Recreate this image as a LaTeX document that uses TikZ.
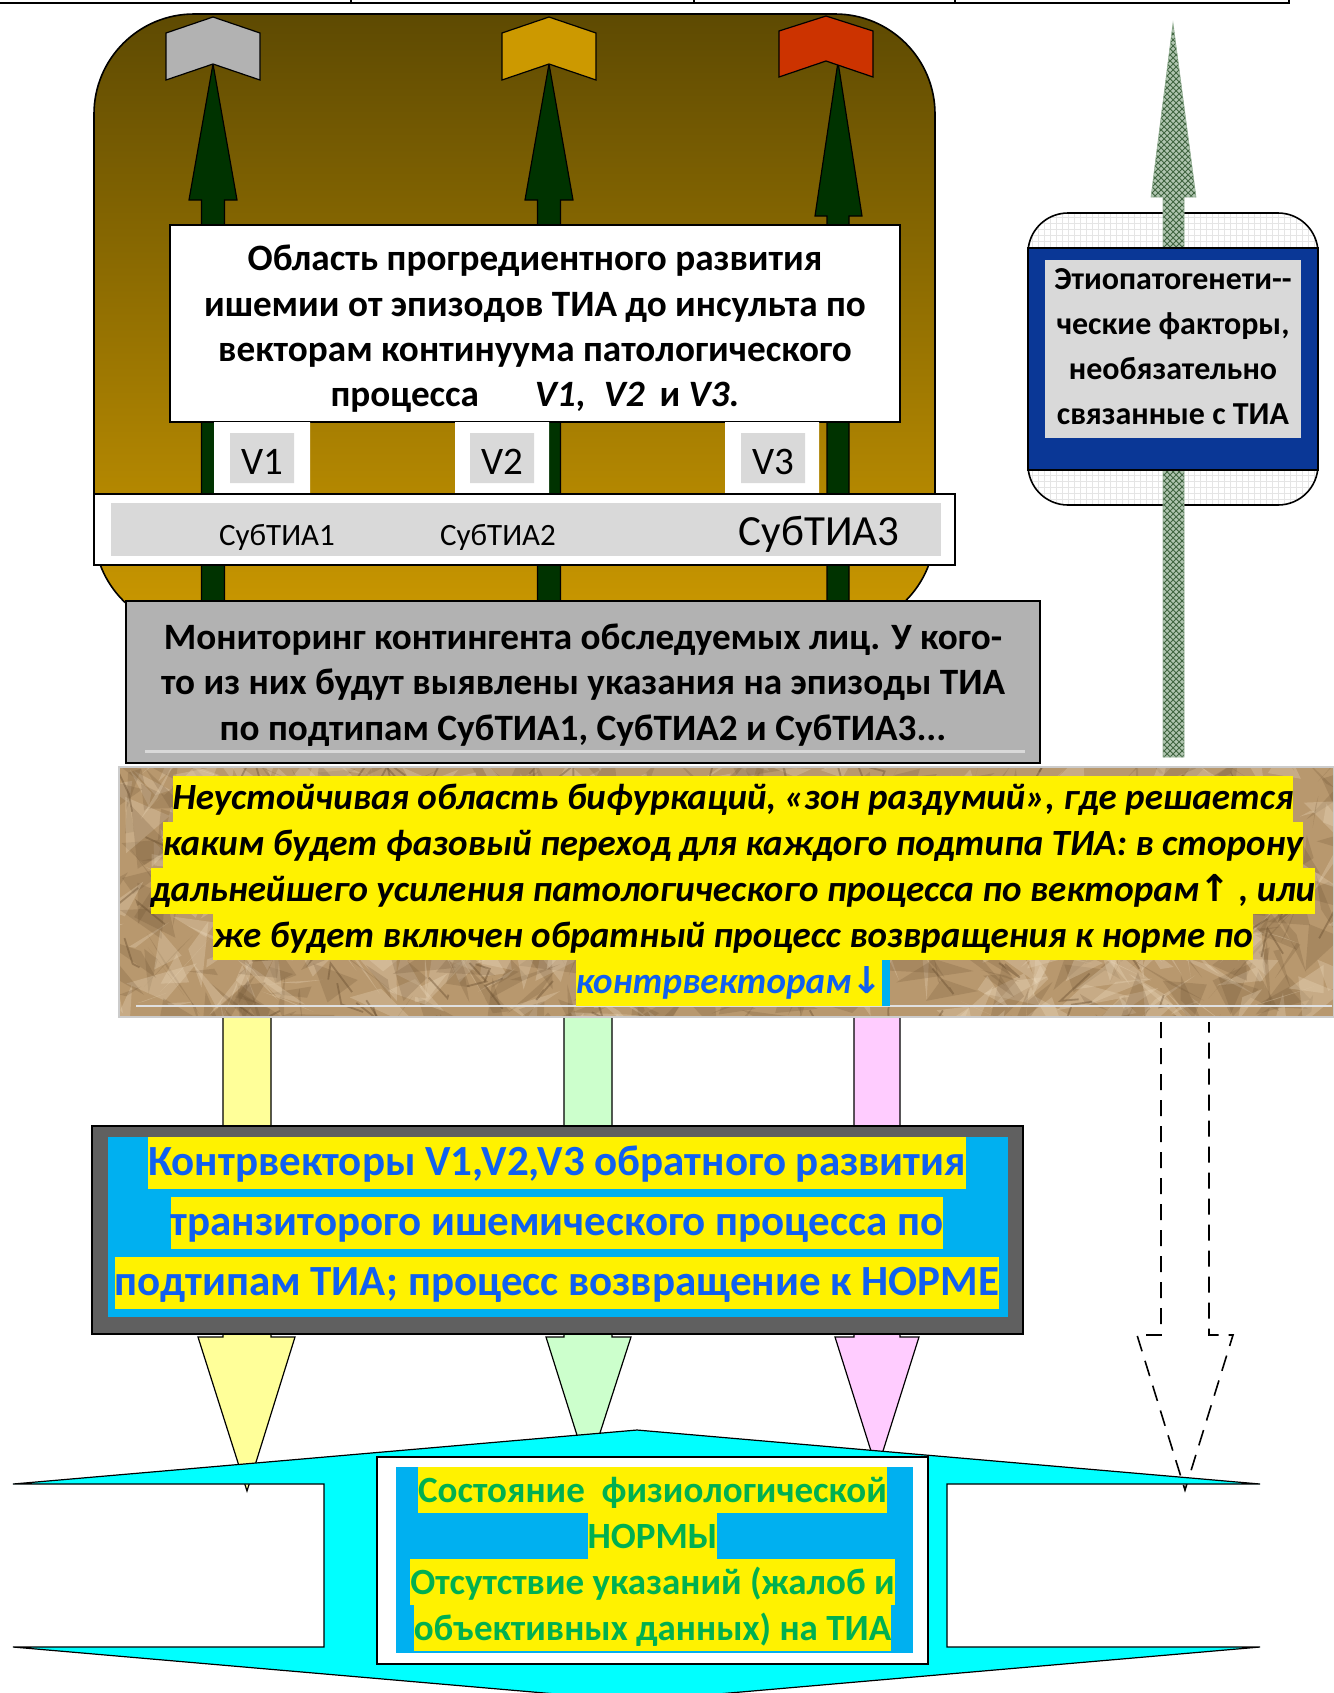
\documentclass[tikz,border=0pt]{standalone}
\usepackage{fontspec}
\setmainfont{Carlito}
\newfontfamily\arrowfont{DejaVu Sans}
\usepackage{tikz}
\usetikzlibrary{patterns}
\usetikzlibrary{positioning}

\definecolor{soilTop}{RGB}{94,74,2}
\definecolor{soilBottom}{RGB}{204,153,0}
\definecolor{vecGreen}{RGB}{0,51,0}
\definecolor{capGrey}{RGB}{178,178,178}
\definecolor{capGold}{RGB}{204,153,0}
\definecolor{capRed}{RGB}{204,51,0}
\definecolor{paleGrey}{RGB}{217,217,217}
\definecolor{monGrey}{RGB}{178,178,178}
\definecolor{darkGrey}{RGB}{96,96,96}
\definecolor{skyBlue}{RGB}{0,176,240}
\definecolor{aqua}{RGB}{0,255,255}
\definecolor{textBlue}{RGB}{16,96,240}
\definecolor{normGreen}{RGB}{0,176,80}
\definecolor{paleYellow}{RGB}{255,255,153}
\definecolor{paleGreen}{RGB}{204,255,204}
\definecolor{palePink}{RGB}{255,204,255}
\definecolor{navyBand}{RGB}{10,55,150}
\definecolor{sand}{RGB}{184,152,110}
\definecolor{sandDark}{RGB}{100,74,44}
\definecolor{sandLight}{RGB}{236,218,190}
\definecolor{meshGreen}{RGB}{80,125,80}

\setlength{\fboxsep}{0pt}
% one highlighted text line: depth, total height, text
\newcommand{\hlline}[3]{\colorbox{yellow}{\rule[-#1]{0pt}{#2}#3}}

\begin{document}
\begin{tikzpicture}[x=0.5pt,y=-0.5pt,
  every node/.style={inner sep=0pt},
  vector/.style={draw=black,line width=0.6pt,fill=vecGreen},
  chevron/.style={draw=black,line width=0.6pt},
  whitebox/.style={draw=black,line width=0.8pt,fill=white},
  boldtext/.style={font=\fontsize{18.6}{22.7}\selectfont\bfseries,align=center},
  subtext/.style={font=\fontsize{15.5}{18}\selectfont},
  vtext/.style={font=\fontsize{19.5}{22}\selectfont},
  palearrow/.style={draw=black,line width=0.6pt},
  dasharrow/.style={draw=black,line width=0.8pt,dash pattern=on 8pt off 5pt,fill=white},
  mesharrow/.style={draw=meshGreen!60,line width=0.3pt,preaction={fill=meshGreen!45},
    pattern=crosshatch,pattern color=meshGreen!80!black}]
  \useasboundingbox (0,0) rectangle (1334,1693);
  % table edge at the top
  \draw[line width=1.2pt] (0,3) -- (1290,3) (351,0) -- (351,3) (694,0) -- (694,3)
    (955,0) -- (955,3) (1289,0) -- (1289,3);

  % region of progredient development
  \draw[line width=0.8pt,top color=soilTop,bottom color=soilBottom,rounded corners=50pt]
    (94,14) rectangle (935,630);
  % the vectors
  \draw[vector] (201.5,610) -- (201.5,200) -- (189,200) -- (213,64) -- (237,200) -- (224.5,200) -- (224.5,610);
  \draw[vector] (537.5,610) -- (537.5,200) -- (525,200) -- (549,64) -- (573,200) -- (560.5,200) -- (560.5,610);
  \draw[vector] (827,610) -- (827,216) -- (815,216) -- (838,62) -- (862,216) -- (849,216) -- (849,610);
  \draw[chevron,fill=capGrey] (166,33) -- (213,17) -- (260,33) -- (260,80) -- (213,64) -- (166,80) -- cycle;
  \draw[chevron,fill=capGold] (502,33) -- (549,17) -- (596,33) -- (596,80) -- (549,64) -- (502,80) -- cycle;
  \draw[chevron,fill=capRed] (779,31) -- (826,16) -- (873,31) -- (873,77) -- (826,61) -- (779,77) -- cycle;

  \draw[whitebox] (170,225) rectangle (900,422);
  \node[boldtext] (areaText) at (535,329)
    {Область прогредиентного развития\\
     ишемии от эпизодов ТИА до инсульта по\\
     векторам континуума патологического\\
     процесса\hspace{1.5em}\textit{V1},\hspace{0.5em}\textit{V2}\hspace{0.4em}и \textit{V3.}};

  % vector labels
  \fill[white] (214,422) rectangle (310,494) (455,422) rectangle (549,494) (725,422) rectangle (819,494);
  \fill[paleGrey] (230,433) rectangle (294,483) (470,433) rectangle (534,483) (741,433) rectangle (805,483);
  \node[vtext,anchor=base] (v1Label) at (262,474) {V1};
  \node[vtext,anchor=base] (v2Label) at (502,474) {V2};
  \node[vtext,anchor=base] (v3Label) at (773,474) {V3};

  % subtypes bar
  \draw[whitebox] (94,494) rectangle (955,565);
  \fill[paleGrey] (111,503) rectangle (941,556);
  \node[subtext,anchor=base] (sub1Label) at (277,545) {СубТИА1};
  \node[subtext,anchor=base] (sub2Label) at (498,545) {СубТИА2};
  \node[font=\fontsize{21.5}{24}\selectfont,anchor=base] (sub3Label) at (819,545) {СубТИА3};

  % monitoring
  \draw[line width=1.2pt,fill=monGrey] (126,601) rectangle (1040,763);
  \draw[paleGrey,line width=1.5pt] (145,751) -- (1025,751);
  \node[boldtext] (monText) at (583,685)
    {Мониторинг контингента обследуемых лиц. У кого-\\
     то из них будут выявлены указания на эпизоды ТИА\\
     по подтипам СубТИА1, СубТИА2 и СубТИА3...};

  % etiopathogenetic factors
  \draw[line width=0.8pt,rounded corners=20pt,fill=white,pattern=grid,pattern color=black!10]
    (1028,213) rectangle (1318,505);
  \draw[mesharrow] (1163,757) -- (1163,197) -- (1151,197) -- (1173,23) -- (1196,197) -- (1184,197) -- (1184,757) -- cycle;
  \draw[line width=0.8pt,fill=navyBand] (1028,248) rectangle (1318,470);
  \fill[paleGrey] (1045,260) rectangle (1301,438);
  \node[font=\fontsize{16}{22.5}\selectfont\bfseries,align=center] (etioText) at (1173,347)
    {Этиопатогенети-{}-\\ ческие факторы,\\ необязательно\\ связанные с ТИА};

  % counter-vectors
  \draw[palearrow,fill=paleYellow] (223,1010) -- (223,1337) -- (198,1337) -- (247,1491) -- (295,1337) -- (271,1337) -- (271,1010);
  \draw[palearrow,fill=paleGreen] (564,1010) -- (564,1337) -- (546,1337) -- (588,1470) -- (631,1337) -- (612,1337) -- (612,1010);
  \draw[palearrow,fill=palePink] (854,1010) -- (854,1337) -- (835,1337) -- (877,1470) -- (919,1337) -- (900,1337) -- (900,1010);
  \draw[dasharrow] (1161,1022) -- (1161,1335) -- (1137,1335) -- (1185,1490) -- (1233,1335) -- (1209,1335) -- (1209,1022);

  % zone of bifurcations
  \begin{scope}
    \clip (119,767) rectangle (1334,1017);
    \fill[sand] (119,767) rectangle (1334,1017);
    \pgfmathsetseed{11}
    \foreach \k in {1,...,450}{
      \fill[sandDark,opacity=0.2]
        ({119+1215*rnd},{767+250*rnd}) -- ++({45*rand},{45*rand}) -- ++({45*rand},{45*rand}) -- cycle;
      \fill[sandLight,opacity=0.3]
        ({119+1215*rnd},{767+250*rnd}) -- ++({45*rand},{45*rand}) -- ++({45*rand},{45*rand}) -- cycle;
    }
    \foreach \k in {1,...,140}{
      \draw[sandDark,line width=0.9pt,opacity=0.4]
        ({119+1215*rnd},{767+250*rnd}) -- ++({30*rand},{35*rand}) -- ++({20*rand},{30*rand});
    }
  \end{scope}
  \draw[black!20,line width=0.8pt] (119,767) rectangle (1334,1017);
  \draw[black!12,line width=1pt] (136,1006) -- (1332,1006);
  \node[font=\fontsize{18.5}{23}\selectfont\bfseries\itshape,align=center] (bifText) at (733,890.5)
    {\hlline{6pt}{23pt}{Неустойчивая область бифуркаций, «зон раздумий», где решается}\\
     \hlline{6pt}{23pt}{каким будет фазовый переход для каждого подтипа ТИА: в сторону}\\
     \hlline{6pt}{23pt}{дальнейшего усиления патологического процесса по векторам{\arrowfont ↑} , или}\\
     \hlline{6pt}{23pt}{же будет включен обратный процесс возвращения к норме по}\\
     \hlline{6pt}{23pt}{\textcolor{textBlue}{контрвекторам{\arrowfont ↓}}}\textcolor{skyBlue}{\rule[-6pt]{4pt}{23pt}}};

  \draw[line width=0.8pt,fill=darkGrey] (92,1126) rectangle (1023,1334);
  \fill[skyBlue] (108,1137) rectangle (1008,1317);
  \node[font=\fontsize{21.5}{30}\selectfont\bfseries,text=textBlue,align=center] (contraText) at (557,1223)
    {\hlline{7pt}{26pt}{Контрвекторы V1,V2,V3 обратного развития}\\
     \hlline{7pt}{26pt}{транзиторого ишемического процесса по}\\
     \hlline{7pt}{26pt}{подтипам ТИА; процесс возвращение к НОРМЕ}};

  % state of physiological norm
  \draw[line width=0.6pt,fill=aqua] (13,1484) -- (637,1430) -- (1260,1484) -- (947,1484) -- (947,1647)
    -- (1260,1647) -- (637,1701) -- (13,1647) -- (324,1647) -- (324,1484) -- cycle;
  \draw[whitebox] (377,1457) rectangle (928,1664);
  \fill[skyBlue] (396,1467) rectangle (913,1653);
  \node[font=\fontsize{18.5}{23}\selectfont\bfseries,text=normGreen,align=center] (normText) at (652.5,1558.5)
    {\hlline{5pt}{23pt}{Состояние\ \ физиологической}\\
     \hlline{5pt}{23pt}{НОРМЫ}\\
     \hlline{5pt}{23pt}{Отсутствие указаний (жалоб и}\\
     \hlline{5pt}{23pt}{объективных данных) на ТИА}};
\end{tikzpicture}
\end{document}
